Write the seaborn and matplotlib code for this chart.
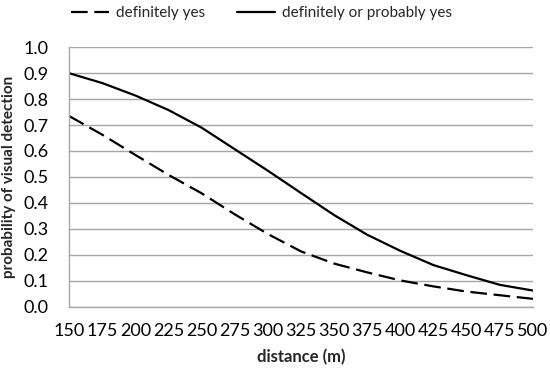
import matplotlib
matplotlib.use("Agg")
import matplotlib.pyplot as plt
import seaborn as sns
import pandas as pd

distance = [150, 175, 200, 225, 250, 275, 300, 325, 350, 375, 400, 425, 450, 475, 500]
definitely_yes = [0.735, 0.663, 0.585, 0.508, 0.437, 0.356, 0.28, 0.213, 0.166, 0.132, 0.101, 0.078, 0.058, 0.044, 0.03]
def_or_prob_yes = [0.90, 0.862, 0.814, 0.758, 0.69, 0.607, 0.524, 0.438, 0.353, 0.277, 0.215, 0.16, 0.121, 0.084, 0.062]
series_names = ["definitely yes", "definitely or probably yes"]
x_ticks = list(range(150, 501, 25))
y_ticks = [i / 10 for i in range(11)]

df = pd.DataFrame({"distance": distance,
                   series_names[0]: definitely_yes,
                   series_names[1]: def_or_prob_yes})
long = df.melt(id_vars="distance", var_name="series", value_name="prob")

sns.set_theme(style="white")
plt.rcParams['font.family'] = ['Lato', 'DejaVu Sans']

fig, ax = plt.subplots(figsize=(5.5, 3.69), dpi=100)
fig.subplots_adjust(left=0.1255, right=0.969, top=0.872, bottom=0.169)

sns.lineplot(data=long, x="distance", y="prob", style="series",
             style_order=series_names,
             dashes={series_names[0]: (7.5, 3), series_names[1]: ""},
             color="black", linewidth=1.6, ax=ax)

grid_c = "#a6a6a6"
ax.set_xlim(150, 500)
ax.set_ylim(0, 1.0)
ax.set_xticks(x_ticks)
ax.set_yticks(y_ticks)
ax.set_yticklabels([f"{v:.1f}" for v in y_ticks])
ax.yaxis.grid(True, color=grid_c, linewidth=1.0)
ax.set_axisbelow(True)
for s in ["top", "right"]:
    ax.spines[s].set_visible(False)
for s in ["left", "bottom"]:
    ax.spines[s].set_color(grid_c)
    ax.spines[s].set_linewidth(1.0)
ax.tick_params(axis="both", which="major", direction="out", length=5,
               color=grid_c, width=1.0, labelsize=13, labelcolor="black")
ax.tick_params(axis="y", pad=10)
ax.tick_params(axis="x", pad=7)

ax.set_xlabel("distance (m)", fontsize=12, fontweight="bold", labelpad=7)
ax.set_ylabel("probability of visual detection", fontsize=11, fontweight="bold", labelpad=5)

leg = ax.legend(loc="center", bbox_to_anchor=(0.475, 0.965),
                bbox_transform=fig.transFigure, ncol=2,
                frameon=False, fontsize=11, handlelength=2.5, columnspacing=2.1,
                handletextpad=0.45, title=None)

fig.savefig("out.png", dpi=100)
